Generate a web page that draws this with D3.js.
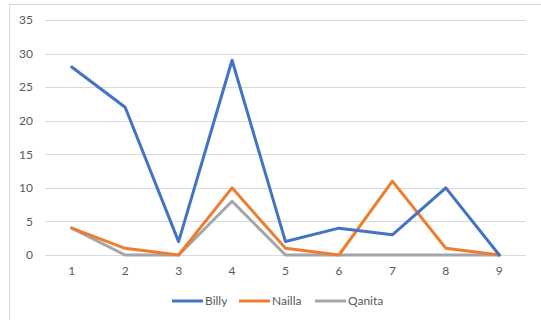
<!DOCTYPE html>
<html>
<head>
<meta charset="utf-8">
<script src="https://cdn.jsdelivr.net/npm/d3@7"></script>
<style>
  html, body { margin: 0; padding: 0; background: #fff; }
  svg { display: block; }
</style>
</head>
<body>
<svg id="chart" width="541" height="320"></svg>
<script>
// Categories along the x axis
const categories = ["1", "2", "3", "4", "5", "6", "7", "8", "9"];

// Series values
const billy  = [28, 22, 2, 29, 2, 4, 3, 10, 0];
const nailla = [4, 1, 0, 10, 1, 0, 11, 1, 0];
const qanita = [4, 0, 0, 8, 0, 0, 0, 0, 0];

// Y axis ticks
const yTicks = [0, 5, 10, 15, 20, 25, 30, 35];

const seriesNames  = ["Billy", "Nailla", "Qanita"];
const seriesValues = [billy, nailla, qanita];
const seriesColors = ["#4472C4", "#ED7D31", "#A5A5A5"];

const svg = d3.select("#chart");
const font = "Lato, 'Open Sans', sans-serif";
const textColor = "#595959";

// Chart area frame
svg.append("rect")
  .attr("x", 9.5).attr("y", 4.5)
  .attr("width", 600).attr("height", 400)
  .attr("fill", "#fff")
  .attr("stroke", "#d9d9d9")
  .attr("stroke-width", 1);

const plot = { left: 45, right: 526, top: 20, bottom: 255 };

const x = d3.scaleBand()
  .domain(categories)
  .range([plot.left, plot.right]);

const y = d3.scaleLinear()
  .domain([0, 35])
  .range([plot.bottom, plot.top]);

// Horizontal gridlines
svg.append("g")
  .selectAll("line")
  .data(yTicks)
  .join("line")
  .attr("x1", plot.left).attr("x2", plot.right)
  .attr("y1", d => Math.round(y(d)) + 0.5)
  .attr("y2", d => Math.round(y(d)) + 0.5)
  .attr("stroke", "#d9d9d9")
  .attr("stroke-width", 1);

// Y axis labels
const yAxis = svg.append("g")
  .attr("transform", `translate(${plot.left},0)`)
  .call(d3.axisLeft(y).tickValues(yTicks).tickSize(0).tickPadding(12));
yAxis.select(".domain").remove();
yAxis.selectAll("text")
  .attr("fill", textColor)
  .style("font-family", font)
  .style("font-size", "12px");

// X axis labels
const xAxis = svg.append("g")
  .attr("transform", `translate(0,${plot.bottom})`)
  .call(d3.axisBottom(x).tickSize(0).tickPadding(11));
xAxis.select(".domain").remove();
xAxis.selectAll("text")
  .attr("fill", textColor)
  .style("font-family", font)
  .style("font-size", "12px");

// Series lines
const line = d3.line()
  .x((d, i) => x(categories[i]) + x.bandwidth() / 2)
  .y(d => y(d));

svg.append("g")
  .selectAll("path")
  .data(seriesValues.map((v, i) => ({ v, i })).reverse())
  .join("path")
  .attr("d", d => line(d.v))
  .attr("fill", "none")
  .attr("stroke", d => seriesColors[d.i])
  .attr("stroke-width", 3)
  .attr("stroke-linejoin", "round")
  .attr("stroke-linecap", "round");

// Legend
const legendY = 301;
const legendX = [172, 239, 315];
const legend = svg.append("g");
seriesNames.forEach((name, i) => {
  legend.append("line")
    .attr("x1", legendX[i]).attr("x2", legendX[i] + 31)
    .attr("y1", legendY).attr("y2", legendY)
    .attr("stroke", seriesColors[i])
    .attr("stroke-width", 3);
  legend.append("text")
    .attr("x", legendX[i] + 33)
    .attr("y", legendY)
    .attr("dy", "0.35em")
    .attr("fill", textColor)
    .style("font-family", font)
    .style("font-size", "12px")
    .text(name);
});
</script>
</body>
</html>
